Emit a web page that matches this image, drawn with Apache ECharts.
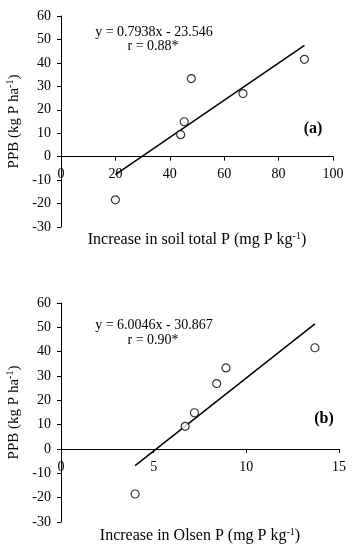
<!DOCTYPE html>
<html><head><meta charset="utf-8">
<script src="https://cdn.jsdelivr.net/npm/echarts@6/dist/echarts.min.js"></script>
<style>html,body{margin:0;padding:0;background:#fff}#c{width:354px;height:550px}</style>
</head><body><div id="c"></div>
<script>
// Panel (a): soil total P
const totalP = [20, 44, 45.3, 47.9, 66.9, 89.5];
const ppbA   = [-18.4, 9.4, 14.9, 33.3, 26.9, 41.5];
const fitA   = [0.7938, -23.546];
// Panel (b): Olsen P
const olsenP = [4.0, 6.7, 7.2, 8.4, 8.9, 13.7];
const ppbB   = [-18.5, 9.3, 14.9, 26.9, 33.3, 41.6];
const fitB   = [6.0046, -30.867];
const yTicks = [-30, 60, 10];
const xTicksA = [0, 100, 20];
const xTicksB = [0, 15, 5];

const font = '"Liberation Serif","Times New Roman",serif';
const grids = [
  {left:61, right:21, top:16, height:211, containLabel:false, outerBoundsMode:'none'},
  {left:61, right:15, top:303, height:219, containLabel:false, outerBoundsMode:'none'}
];
function pairs(xs, ys){ return xs.map((x,i)=>[x, ys[i]]); }
function fitLine(xs, f){
  const lo = Math.min(...xs), hi = Math.max(...xs);
  return [[lo, f[0]*lo + f[1]], [hi, f[0]*hi + f[1]]];
}
const axisLbl = {color:'#000', fontFamily:font, fontSize:14};
const lineSt = {lineStyle:{color:'#000', width:1}};
const sup = {fontSize:10, fontFamily:font, color:'#000', verticalAlign:'top', padding:[0,0,8,0]};
const base = {fontSize:15, fontFamily:font, color:'#000'};
const base16 = {fontSize:16, fontFamily:font, color:'#000'};

function yAxis(gi){
  return {gridIndex:gi, type:'value', min:yTicks[0], max:yTicks[1], interval:yTicks[2],
    axisLine:{show:true, ...lineSt}, axisTick:{show:true, length:4, ...lineSt},
    splitLine:{show:false}, axisLabel:{...axisLbl, margin:10},
    name:'{b|PPB (kg P ha}{s|-1}{b|)}', nameLocation:'middle', nameGap:36, nameRotate:90,
    nameTextStyle:{rich:{b:base, s:sup}}};
}
function xAxis(gi, t){
  // place the axis line at y = 0 by shifting it up from the grid bottom
  const off = -grids[gi].height * (0 - yTicks[0]) / (yTicks[1] - yTicks[0]);
  return {gridIndex:gi, type:'value', min:t[0], max:t[1], interval:t[2], position:'bottom',
    offset:off,
    axisLine:{show:true, onZero:false, ...lineSt}, axisTick:{show:true, length:4, ...lineSt},
    splitLine:{show:false}, axisLabel:{...axisLbl, margin:11}};
}
function txt(text, x, y, extra){
  return {text:text, left:x, top:y, textAlign:'center',
    textStyle:Object.assign({fontFamily:font, fontSize:14, fontWeight:'normal', color:'#000', rich:{b:base16, s:sup}}, extra||{})};
}
const sym = {type:'scatter', symbol:'circle', symbolSize:8,
  itemStyle:{color:'#fff', borderColor:'#000', borderWidth:1.2}, z:3};
const ln = {type:'line', showSymbol:false, symbol:'none', lineStyle:{color:'#000', width:1.5}, z:2};

const chart = echarts.init(document.getElementById('c'));
chart.setOption({
  animation:false,
  backgroundColor:'#fff',
  grid:grids,
  xAxis:[xAxis(0, xTicksA), xAxis(1, xTicksB)],
  yAxis:[yAxis(0), yAxis(1)],
  title:[
    txt('y = 0.7938x - 23.546', 149, 20),
    txt('r = 0.88*', 148, 34),
    txt('(a)', 308, 116, {fontWeight:'bold', fontSize:16}),
    txt('{b|Increase in soil total P (mg P kg}{s|-1}{b|)}', 192, 226),
    txt('y = 6.0046x - 30.867', 149, 313),
    txt('r = 0.90*', 148, 328),
    txt('(b)', 319, 406, {fontWeight:'bold', fontSize:16}),
    txt('{b|Increase in Olsen P (mg P kg}{s|-1}{b|)}', 195, 522)
  ],
  series:[
    Object.assign({}, ln, {xAxisIndex:0, yAxisIndex:0, data:fitLine(totalP, fitA)}),
    Object.assign({}, sym, {xAxisIndex:0, yAxisIndex:0, data:pairs(totalP, ppbA)}),
    Object.assign({}, ln, {xAxisIndex:1, yAxisIndex:1, data:fitLine(olsenP, fitB)}),
    Object.assign({}, sym, {xAxisIndex:1, yAxisIndex:1, data:pairs(olsenP, ppbB)})
  ]
});
</script></body></html>
